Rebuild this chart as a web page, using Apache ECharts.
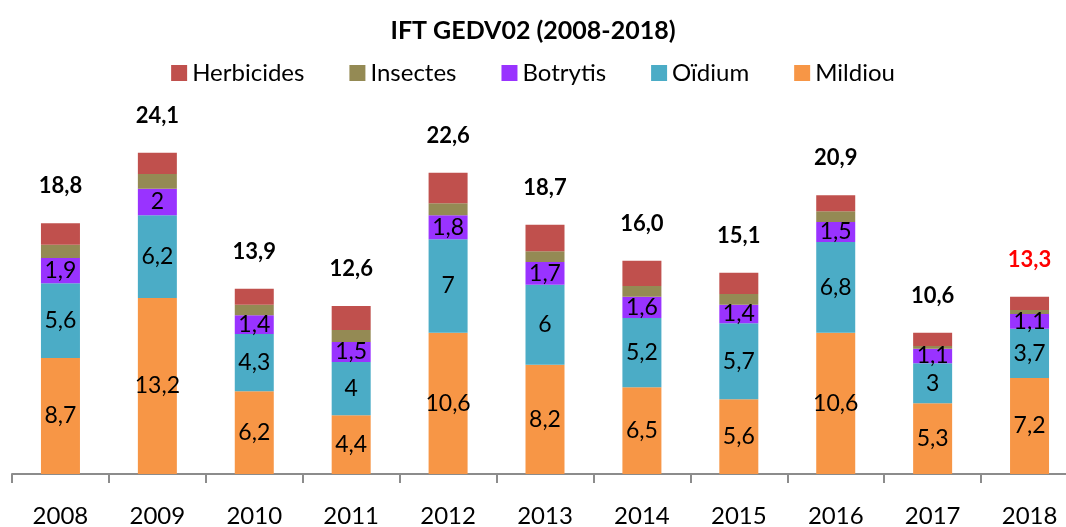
<!DOCTYPE html>
<html>
<head>
<meta charset="utf-8">
<script src="https://cdn.jsdelivr.net/npm/echarts@6/dist/echarts.min.js"></script>
<style>
  html, body { margin: 0; padding: 0; background: #fff; }
  #main { width: 1066px; height: 527px; }
</style>
</head>
<body>
<div id="main"></div>
<script>
/* données IFT GEDV02 */
var years = ['2008', '2009', '2010', '2011', '2012', '2013', '2014', '2015', '2016', '2017', '2018'];
var mildiou    = [8.7, 13.2, 6.2, 4.4, 10.6, 8.2, 6.5, 5.6, 10.6, 5.3, 7.2];
var oidium     = [5.6, 6.2, 4.3, 4, 7, 6, 5.2, 5.7, 6.8, 3, 3.7];
var botrytis   = [1.9, 2, 1.4, 1.5, 1.8, 1.7, 1.6, 1.4, 1.5, 1.1, 1.1];
var insectes   = [1.0, 1.1, 0.8, 0.9, 0.9, 0.8, 0.8, 0.8, 0.8, 0.2, 0.3];
var herbicides = [1.6, 1.6, 1.2, 1.8, 2.3, 2.0, 1.9, 1.6, 1.2, 1.0, 1.0];
var totals     = ['18,8', '24,1', '13,9', '12,6', '22,6', '18,7', '16,0', '15,1', '20,9', '10,6', '13,3'];

var font = 'Lato, "Open Sans", sans-serif';

function virgule(p) {
  return String(p.value).replace('.', ',');
}

var valueLabel = {
  show: true,
  position: 'inside',
  formatter: virgule,
  color: '#000',
  fontSize: 23,
  fontFamily: font
};

// dernier segment : porte le total au-dessus de la barre
var herbData = herbicides.map(function (v, i) {
  var item = { value: v };
  if (i == years.length - 1) {
    item.label = { color: '#ff0000' };
  }
  return item;
});

var myChart = echarts.init(document.getElementById('main'));

option = {
  animation: false,
  backgroundColor: '#fff',
  title: {
    text: 'IFT GEDV02 (2008-2018)',
    left: 'center',
    top: 13,
    textStyle: {
      color: '#000',
      fontSize: 25,
      fontWeight: 'bold',
      fontFamily: font
    }
  },
  legend: {
    data: ['Herbicides', 'Insectes', 'Botrytis', 'Oïdium', 'Mildiou'],
    left: 'center',
    top: 56,
    itemWidth: 16,
    itemHeight: 16,
    itemGap: 45,
    icon: 'rect',
    textStyle: {
      color: '#000',
      fontSize: 24,
      fontFamily: font
    }
  },
  grid: {
    left: 12,
    width: 1066,
    top: 74,
    bottom: 53,
    outerBoundsMode: 'none'
  },
  xAxis: {
    type: 'category',
    data: years,
    axisLine: { lineStyle: { color: '#8c8c8c', width: 2 } },
    axisTick: { show: true, length: 9, lineStyle: { color: '#8c8c8c', width: 2 } },
    axisLabel: {
      color: '#000',
      fontSize: 24,
      fontFamily: font,
      margin: 30
    }
  },
  yAxis: {
    type: 'value',
    min: 0,
    max: 30,
    show: false,
    splitLine: { show: false }
  },
  series: [
    {
      name: 'Mildiou',
      type: 'bar',
      stack: 'ift',
      barWidth: 39,
      itemStyle: { color: '#F79646' },
      label: valueLabel,
      data: mildiou
    },
    {
      name: 'Oïdium',
      type: 'bar',
      stack: 'ift',
      barWidth: 39,
      itemStyle: { color: '#4BACC6' },
      label: valueLabel,
      data: oidium
    },
    {
      name: 'Botrytis',
      type: 'bar',
      stack: 'ift',
      barWidth: 39,
      itemStyle: { color: '#9933FF' },
      label: valueLabel,
      data: botrytis
    },
    {
      name: 'Insectes',
      type: 'bar',
      stack: 'ift',
      barWidth: 39,
      itemStyle: { color: '#948A54' },
      data: insectes
    },
    {
      name: 'Herbicides',
      type: 'bar',
      stack: 'ift',
      barWidth: 39,
      itemStyle: { color: '#C0504D' },
      label: {
        show: true,
        position: 'top',
        distance: 26,
        color: '#000',
        fontSize: 22,
        fontWeight: 'bold',
        fontFamily: font,
        formatter: function (p) {
          return totals[p.dataIndex];
        }
      },
      data: herbData
    }
  ]
};
myChart.setOption(option);
</script>
</body>
</html>
